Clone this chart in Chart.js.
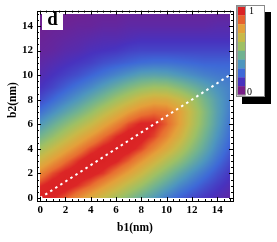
<!DOCTYPE html>
<html><head><meta charset="utf-8">
<script src="https://cdn.jsdelivr.net/npm/chart.js@4/dist/chart.umd.min.js"></script>
<style>html,body{margin:0;padding:0;background:#fff}#wrap{width:277px;height:242px;position:relative}</style>
</head><body><div id="wrap"><canvas id="c" width="277" height="242"></canvas></div>
<script>
// ---- data ----
const b1Nodes = [0,1,2,3,4,5,6,7,8,9,10,11,12,13,14,15];
const b2Nodes = [0,1,2,3,4,5,6,7,8,9,10,11,12,13,14,15];
// density[j][i] : value at b2 = b2Nodes[j], b1 = b1Nodes[i]
const density = [
 [1.00,0.96,0.90,0.82,0.74,0.66,0.58,0.50,0.42,0.35,0.27,0.21,0.16,0.12,0.09,0.06],
 [0.94,0.99,0.99,0.94,0.88,0.80,0.72,0.63,0.55,0.46,0.38,0.30,0.24,0.18,0.13,0.09],
 [0.83,0.91,0.97,1.00,0.98,0.93,0.85,0.77,0.68,0.58,0.49,0.40,0.32,0.25,0.18,0.12],
 [0.70,0.79,0.87,0.94,1.00,1.00,0.96,0.89,0.80,0.71,0.61,0.52,0.42,0.33,0.24,0.16],
 [0.57,0.66,0.75,0.83,0.91,0.97,1.00,0.98,0.92,0.83,0.74,0.63,0.51,0.40,0.29,0.20],
 [0.45,0.53,0.62,0.71,0.79,0.87,0.94,0.99,0.98,0.92,0.83,0.72,0.58,0.45,0.33,0.23],
 [0.34,0.42,0.50,0.58,0.66,0.75,0.83,0.91,0.96,0.96,0.89,0.78,0.63,0.49,0.36,0.25],
 [0.24,0.31,0.38,0.45,0.53,0.62,0.70,0.78,0.84,0.87,0.86,0.78,0.64,0.50,0.37,0.27],
 [0.16,0.22,0.28,0.34,0.41,0.48,0.56,0.63,0.70,0.74,0.73,0.67,0.58,0.46,0.36,0.28],
 [0.11,0.15,0.20,0.25,0.30,0.36,0.42,0.48,0.53,0.56,0.55,0.50,0.44,0.38,0.32,0.28],
 [0.08,0.11,0.14,0.17,0.21,0.25,0.29,0.33,0.37,0.38,0.37,0.34,0.31,0.28,0.26,0.25],
 [0.06,0.08,0.10,0.12,0.14,0.17,0.19,0.21,0.23,0.24,0.24,0.23,0.22,0.21,0.21,0.21],
 [0.04,0.05,0.07,0.08,0.10,0.11,0.12,0.14,0.15,0.15,0.15,0.15,0.15,0.15,0.15,0.15],
 [0.03,0.04,0.05,0.06,0.07,0.08,0.08,0.09,0.10,0.10,0.10,0.10,0.10,0.10,0.10,0.10],
 [0.02,0.03,0.03,0.04,0.04,0.05,0.05,0.06,0.06,0.06,0.06,0.06,0.06,0.06,0.07,0.07],
 [0.02,0.02,0.02,0.02,0.03,0.03,0.03,0.04,0.04,0.04,0.04,0.04,0.04,0.04,0.04,0.04]
];
const xTickValues = [0,2,4,6,8,10,12,14];
const yTickValues = [0,2,4,6,8,10,12,14];
const ridgeB1 = [0,15];
const ridgeB2 = [0,10];
const legendLabels = ['1','0'];
const panelLabel = 'd';

// ---- styles ----
const colorStops = [
 [0.000,[120,30,135]],
 [0.111,[72,50,190]],
 [0.222,[62,105,215]],
 [0.333,[78,150,190]],
 [0.444,[112,178,145]],
 [0.556,[158,192,100]],
 [0.667,[200,185,72]],
 [0.778,[228,160,58]],
 [0.875,[232,110,48]],
 [0.950,[220,38,38]],
 [1.000,[218,34,36]]
];
function colorFor(v){
  v = Math.max(0, Math.min(1, v));
  for (let k=1;k<colorStops.length;k++){
    if (v <= colorStops[k][0]){
      const [a0,c0]=colorStops[k-1], [a1,c1]=colorStops[k];
      const t=(v-a0)/(a1-a0);
      return [0,1,2].map(n=>Math.round(c0[n]+(c1[n]-c0[n])*t));
    }
  }
  return colorStops[colorStops.length-1][1];
}
function findCell(nodes, v){
  let i = 0;
  while (i < nodes.length-2 && v > nodes[i+1]) i++;
  const t = Math.max(0, Math.min(1, (v-nodes[i])/(nodes[i+1]-nodes[i])));
  return [i,t];
}
function sample(v1, v2){
  const [i,tx] = findCell(b1Nodes, v1);
  const [j,ty] = findCell(b2Nodes, v2);
  const a = density[j][i]*(1-tx)+density[j][i+1]*tx;
  const b = density[j+1][i]*(1-tx)+density[j+1][i+1]*tx;
  return a*(1-ty)+b*ty;
}

const FONT = '"Liberation Serif", "Times New Roman", serif';

const densityPlugin = {
  id:'densityLayer',
  beforeDatasetsDraw(chart){
    const xs = chart.scales.x, ys = chart.scales.y, ctx = chart.ctx;
    const x0 = Math.round(xs.getPixelForValue(b1Nodes[0]));
    const x1 = Math.round(xs.getPixelForValue(b1Nodes[b1Nodes.length-1]));
    const y0 = Math.round(ys.getPixelForValue(b2Nodes[b2Nodes.length-1]));
    const y1 = Math.round(ys.getPixelForValue(b2Nodes[0]));
    const w = x1-x0, h = y1-y0;
    const off = document.createElement('canvas'); off.width=w; off.height=h;
    const octx = off.getContext('2d');
    const img = octx.createImageData(w,h);
    for (let py=0; py<h; py++){
      const v2 = ys.getValueForPixel(y0+py+0.5);
      for (let px=0; px<w; px++){
        const v1 = xs.getValueForPixel(x0+px+0.5);
        const c = colorFor(sample(v1,v2));
        const k = (py*w+px)*4;
        img.data[k]=c[0]; img.data[k+1]=c[1]; img.data[k+2]=c[2]; img.data[k+3]=255;
      }
    }
    octx.putImageData(img,0,0);
    ctx.drawImage(off,x0,y0);
  }
};

const framePlugin = {
  id:'frameTicks',
  afterDatasetsDraw(chart){
    const ctx = chart.ctx, a = chart.chartArea, xs = chart.scales.x, ys = chart.scales.y;
    ctx.save();
    // panel label
    ctx.fillStyle = '#fff';
    ctx.fillRect(42, 9, 21, 21);
    ctx.fillStyle = '#000';
    ctx.font = 'bold 19px ' + FONT;
    ctx.textAlign = 'center'; ctx.textBaseline = 'middle';
    ctx.fillText(panelLabel, 52.5, 20);
    // frame
    ctx.strokeStyle = '#000'; ctx.lineWidth = 1;
    ctx.strokeRect(Math.round(a.left)+0.5, Math.round(a.top)+0.5, Math.round(a.right-a.left), Math.round(a.bottom-a.top));
    ctx.beginPath();
    for (let v=0; v<=15.001; v+=0.5){
      const major = Math.abs(v/2 - Math.round(v/2)) < 1e-6;
      const L = major ? 4 : 2;
      const px = Math.round(xs.getPixelForValue(v))+0.5;
      ctx.moveTo(px, a.bottom); ctx.lineTo(px, a.bottom-L);
      ctx.moveTo(px, a.top); ctx.lineTo(px, a.top+L);
      const py = Math.round(ys.getPixelForValue(v))+0.5;
      ctx.moveTo(a.left, py); ctx.lineTo(a.left+L, py);
      ctx.moveTo(a.right, py); ctx.lineTo(a.right-L, py);
    }
    ctx.stroke();
    ctx.restore();
  },
  afterDraw(chart){
    const ctx = chart.ctx;
    ctx.save();
    // colour legend with drop shadow
    ctx.fillStyle = '#000';
    ctx.fillRect(242, 12, 29, 92);
    ctx.fillStyle = '#fff';
    ctx.fillRect(236, 5, 29, 92);
    ctx.strokeStyle = '#8a8a8a'; ctx.lineWidth = 1;
    ctx.strokeRect(236.5, 5.5, 28, 91);
    const n = 10, top = 6.5, bot = 95, hh = (bot-top)/n;
    for (let k=0;k<n;k++){
      const c = colorFor(1 - k/(n-1));
      ctx.fillStyle = `rgb(${c[0]},${c[1]},${c[2]})`;
      ctx.fillRect(238, top+k*hh, 7, hh+0.3);
    }
    ctx.strokeStyle = '#9a9a9a';
    ctx.strokeRect(237.5, top, 8, bot-top);
    ctx.fillStyle = '#000';
    ctx.font = '10px ' + FONT;
    ctx.textAlign = 'left'; ctx.textBaseline = 'middle';
    ctx.fillText(legendLabels[0], 249, 11);
    ctx.fillText(legendLabels[1], 247, 92);
    ctx.restore();
  }
};

const tickFont = {family: FONT, size: 11, weight: 'bold'};
new Chart(document.getElementById('c'), {
  type: 'scatter',
  data: {
    datasets: [{
      type: 'line',
      data: ridgeB1.map((x,i)=>({x, y: ridgeB2[i]})),
      borderColor: '#ffffff',
      borderWidth: 2,
      borderDash: [2.5, 3.5],
      pointRadius: 0,
      fill: false,
      showLine: true
    }]
  },
  options: {
    responsive: false,
    animation: false,
    devicePixelRatio: 1,
    layout: {padding: {left: 0, top: 4, right: 44, bottom: 0}},
    plugins: {legend: {display: false}, tooltip: {enabled: false}},
    scales: {
      x: {
        type: 'linear', min: -0.25, max: 15.25,
        afterBuildTicks: s => { s.ticks = xTickValues.map(v => ({value: v})); },
        afterFit: s => { s.height = 41; },
        grid: {display: false, drawTicks: false},
        border: {display: false},
        ticks: {font: tickFont, color: '#000', padding: 3, maxRotation: 0, autoSkip: false},
        title: {display: true, text: 'b1(nm)', color: '#000', font: {family: FONT, size: 11.5, weight: 'bold'}, padding: {top: 0, bottom: 7}}
      },
      y: {
        type: 'linear', min: -0.25, max: 15.25,
        afterBuildTicks: s => { s.ticks = yTickValues.map(v => ({value: v})); },
        afterFit: s => { s.width = 37; },
        grid: {display: false, drawTicks: false},
        border: {display: false},
        ticks: {font: tickFont, color: '#000', padding: 4, autoSkip: false},
        title: {display: true, text: '    b2(nm)', color: '#000', font: {family: FONT, size: 11.5, weight: 'bold'}, padding: {top: 6, bottom: 0}}
      }
    }
  },
  plugins: [densityPlugin, framePlugin]
});
</script></body></html>
